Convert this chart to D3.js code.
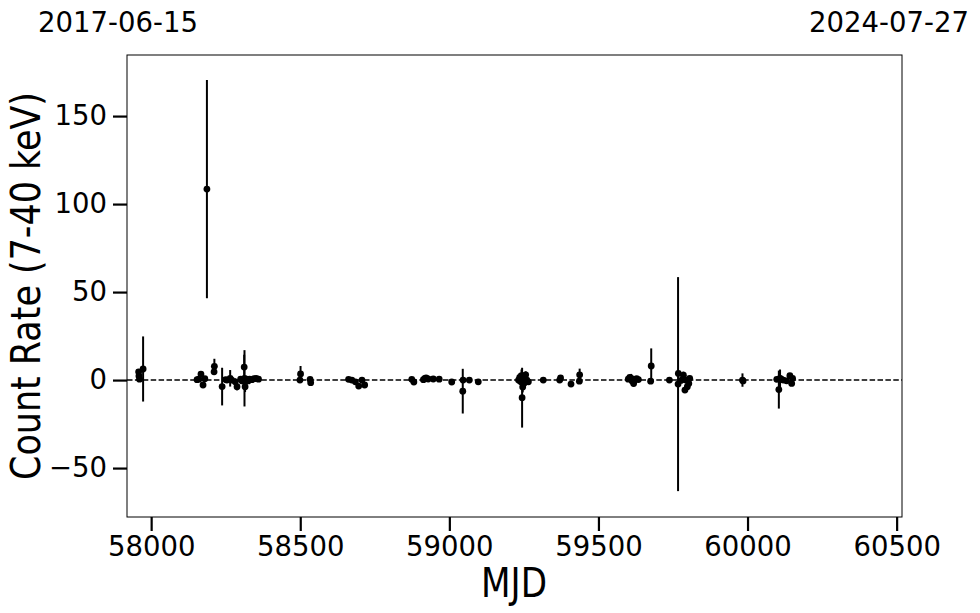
<!DOCTYPE html>
<html>
<head>
<meta charset="utf-8">
<script src="https://cdn.jsdelivr.net/npm/d3@7"></script>
<style>
html,body{margin:0;padding:0;background:#fff;}
svg text{font-family:"DejaVu Sans",sans-serif;fill:#000;}
</style>
</head>
<body>
<svg id="chart" width="980" height="613"></svg>
<script>
const mjd = [57958,57959,57961,57973,
58154,58160,58167,58174,58180,58187,58211,58212,58238,58250,58254,58265,58270,58282,58288,58300,58305,58312,58313,58315,58320,58325,58330,58338,58345,58352,58360,
58499,58501,58533,58535,
58662,58673,58685,58696,58707,58716,
58874,58881,58913,58918,58922,58929,58946,58966,59008,59045,59046,59067,59097,
59232,59236,59240,59242,59244,59246,59248,59250,59252,59256,59260,59265,
59315,59370,59373,59408,59436,59437,
59600,59605,59610,59613,59618,59622,59628,59634,
59675,59677,59738,59767,59768,59779,59785,59790,59793,59798,59803,59806,
59983,59985,
60098,60105,60109,60113,60120,60131,60142,60148,60151];
const rate = [4.7,2.3,0.5,6.3,
0.2,0.5,3.4,-2.8,0.8,108.5,4.7,7.8,-3.7,0.3,0.0,1.0,0.0,-1.0,-3.8,0.5,-0.5,7.4,1.0,-3.8,0.5,-0.5,0.5,0.2,0.8,1.0,0.5,
0.0,3.5,0.4,-1.5,
0.4,0.0,-1.0,-3.4,0.0,-2.8,
0.4,-1.1,0.2,1.0,1.2,0.6,0.6,0.5,-1.1,-6.3,0.0,0.0,-1.0,
0.0,1.5,-1.0,2.5,-10.0,-4.0,1.0,-2.0,0.5,3.0,0.0,-1.0,
0.0,0.0,1.2,-2.3,-0.6,3.0,
0.5,1.5,1.0,-0.5,-2.0,0.0,0.8,0.3,
-0.6,8.0,0.0,-2.3,3.8,0.0,2.8,-5.7,0.0,-3.8,-1.9,1.0,
0.0,-0.5,
0.4,-5.4,1.0,0.5,0.0,-0.4,2.5,-1.9,1.0];
const err = [1.5,1.5,1.2,18.5,
1.0,1.0,1.5,1.5,1.0,62,1.5,4.3,10.7,1.2,1.0,4.7,1.5,2.0,2.0,1.5,1.5,7.0,16,3.0,1.5,1.5,1.5,1.2,1.0,1.0,1.0,
1.0,4.5,1.0,1.5,
1.0,1.0,1.0,1.2,1.0,1.0,
1.0,1.0,1.0,1.0,1.0,1.0,1.0,1.0,1.5,12.7,1.0,1.5,1.0,
2.0,2.5,3.0,3.5,17,3.0,2.5,3.5,2.0,2.0,2.0,1.5,
1.0,1.0,1.0,1.0,1.0,3.5,
1.5,1.5,2.5,2.0,1.5,1.5,1.0,1.0,
1.0,10,1.5,60.8,1.5,2.0,2.0,1.5,1.5,1.5,1.5,1.5,
3.8,1.0,
1.0,10.8,5.0,2.0,1.5,1.0,1.5,1.5,1.0];
const xTicks = [58000,58500,59000,59500,60000,60500];
const yTicks = [-50,0,50,100,150];
const topLabels = ["2017-06-15","2024-07-27"];
const xDomain = [57919,60518];
const yDomain = [-77.8,184.7];

const data = mjd.map((m,i)=>({m, r:rate[i], e:err[i]}));
const svg = d3.select("#chart");
const L=127,R=902,T=55,B=517;
const x = d3.scaleLinear().domain(xDomain).range([L,R]);
const y = d3.scaleLinear().domain(yDomain).range([B,T]);

// frame
svg.append("rect").attr("x",L).attr("y",T).attr("width",R-L).attr("height",B-T)
  .attr("fill","none").attr("stroke","#000").attr("stroke-width",1);

// zero line
svg.append("line").attr("x1",L).attr("x2",R).attr("y1",y(0)).attr("y2",y(0))
  .attr("stroke","#000").attr("stroke-width",1.5).attr("stroke-dasharray","5.5,2.4");

// axes
const xAxis = d3.axisBottom(x).tickValues(xTicks).tickFormat(d3.format("d")).tickSize(14).tickPadding(5);
const gx = svg.append("g").attr("transform",`translate(0,${B})`).call(xAxis);
gx.select(".domain").remove();
gx.selectAll("line").attr("stroke","#000").attr("stroke-width",2.2);
gx.selectAll("text").attr("font-size",27.5).attr("font-family","DejaVu Sans");

const yAxis = d3.axisLeft(y).tickValues(yTicks).tickFormat(d=>d<0?"\u2212"+Math.abs(d):d).tickSize(14).tickPadding(6);
const gy = svg.append("g").attr("transform",`translate(${L},0)`).call(yAxis);
gy.select(".domain").remove();
gy.selectAll("line").attr("stroke","#000").attr("stroke-width",2.2);
gy.selectAll("text").attr("font-size",27.5).attr("font-family","DejaVu Sans");

// error bars
svg.append("g").selectAll("line").data(data).join("line")
  .attr("x1",d=>x(d.m)).attr("x2",d=>x(d.m))
  .attr("y1",d=>y(d.r-d.e)).attr("y2",d=>y(d.r+d.e))
  .attr("stroke","#000").attr("stroke-width",2);
// points
svg.append("g").selectAll("circle").data(data).join("circle")
  .attr("cx",d=>x(d.m)).attr("cy",d=>y(d.r)).attr("r",3.4).attr("fill","#000");

// labels
svg.append("text").attr("x",514).attr("y",597).attr("text-anchor","middle")
  .attr("font-family","DejaVu Sans Condensed").attr("font-size",40)
  .attr("textLength",66).attr("lengthAdjust","spacingAndGlyphs").text("MJD");
svg.append("text").attr("transform",`translate(40,${(T+B)/2}) rotate(-90)`).attr("text-anchor","middle")
  .attr("font-family","DejaVu Sans Condensed").attr("font-size",40)
  .attr("textLength",388).attr("lengthAdjust","spacingAndGlyphs").text("Count Rate (7-40 keV)");
svg.append("text").attr("x",118).attr("y",32).attr("text-anchor","middle").attr("font-size",27.5).text(topLabels[0]);
svg.append("text").attr("x",889).attr("y",32).attr("text-anchor","middle").attr("font-size",27.5).text(topLabels[1]);
</script>
</body>
</html>
